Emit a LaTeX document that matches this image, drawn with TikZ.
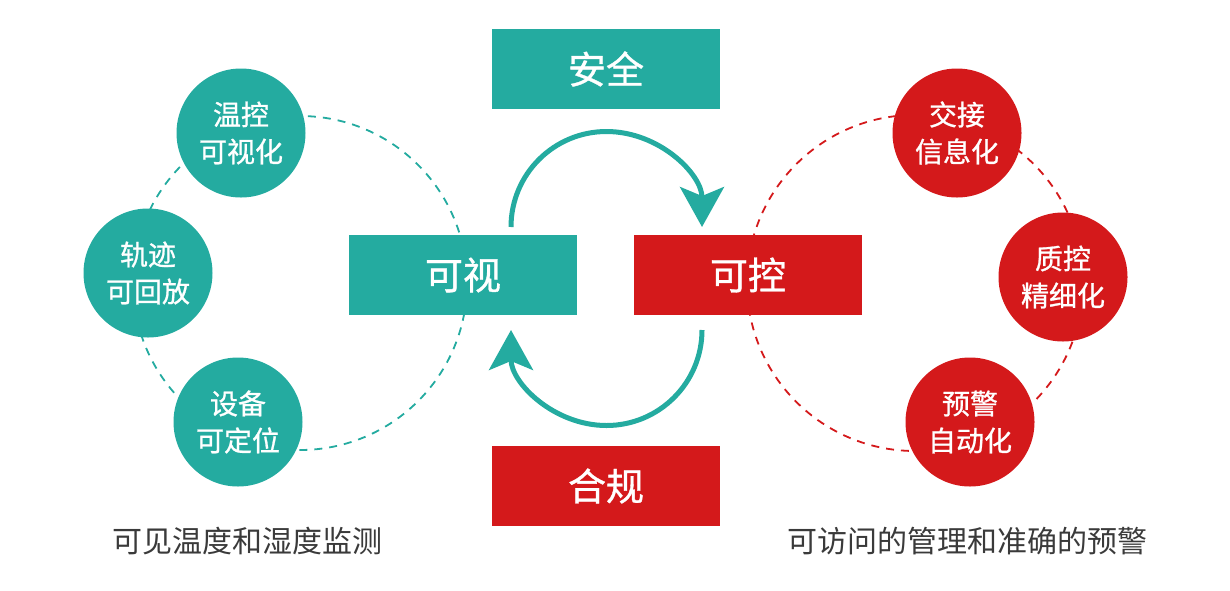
\documentclass[tikz,border=0pt]{standalone}
\usepackage{fontspec}
\setmainfont{Noto Sans CJK SC}
\newfontfamily\medfont{Noto Sans CJK SC}[FakeBold=0.9]
\usetikzlibrary{arrows.meta}
\definecolor{tealc}{HTML}{24ABA0}
\definecolor{redc}{HTML}{D4191B}
\definecolor{capc}{HTML}{3A3A3A}
\tikzset{
  boxnode/.style={minimum width=228pt,minimum height=80pt,inner sep=0pt,text=white,
     font=\medfont\fontsize{38}{42}\selectfont},
  bubble/.style={circle,minimum size=129pt,inner sep=0pt,text=white,align=center,
     font=\medfont\fontsize{28}{37}\selectfont},
  dashring/.style={line width=1.8pt,dash pattern=on 8pt off 7pt},
  cyclearrow/.style={line width=5pt,tealc,-{Stealth[length=40pt,width=44pt,inset=9pt]}},
  caption/.style={text=capc,font=\fontsize{30}{34}\selectfont}
}
\begin{document}
\begin{tikzpicture}[x=1pt,y=-1pt]
\useasboundingbox (0,0) rectangle (1230,590);
% dashed rings
\draw[dashring,tealc] (300,283) circle[radius=167];
\draw[dashring,redc] (915,283) circle[radius=168];
% main boxes
\node[boxnode,fill=tealc] (aq) at (606,69) {安全};
\node[boxnode,fill=tealc] (ks) at (463,275) {可视};
\node[boxnode,fill=redc] (kk) at (748,275) {可控};
\node[boxnode,fill=redc] (hg) at (606,486) {合规};
% bubbles left
\node[bubble,fill=tealc] (wk) at (241,133) {温控\\可视化};
\node[bubble,fill=tealc] (gj) at (148,273) {轨迹\\可回放};
\node[bubble,fill=tealc] (sb) at (238,422) {设备\\可定位};
% bubbles right
\node[bubble,fill=redc] (jj) at (957,133) {交接\\信息化};
\node[bubble,fill=redc] (zk) at (1063,277) {质控\\精细化};
\node[bubble,fill=redc] (yj) at (970,422) {预警\\自动化};
% cycle arrows
\coordinate (a1) at (511,227);
\coordinate (b1) at (702,330);
\draw[cyclearrow] (a1) arc[start angle=180,end angle=360,radius=95.5];
\draw[cyclearrow] (b1) arc[start angle=0,end angle=180,radius=95.5];
% captions
\node[caption] (c1) at (247,541) {可见温度和湿度监测};
\node[caption] (c2) at (967,541) {可访问的管理和准确的预警};
\end{tikzpicture}
\end{document}
